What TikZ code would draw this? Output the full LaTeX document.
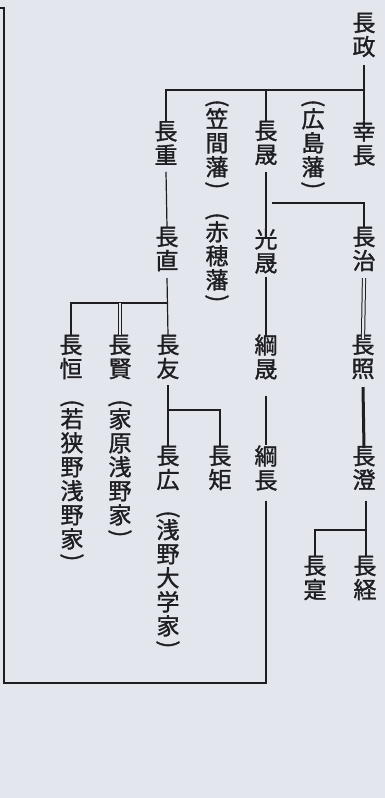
\documentclass[tikz,border=0pt]{standalone}
\usepackage{fontspec}
\usepackage{graphicx}
\newfontfamily\jp[FakeBold=1.3]{Noto Sans CJK JP}
\definecolor{bg}{RGB}{227,230,237}
\definecolor{ink}{RGB}{30,30,34}
\newcommand{\lpa}{\rotatebox[origin=c]{-90}{(}\\[-7pt]}
\newcommand{\rpa}{\\[-7pt]\rotatebox[origin=c]{-90}{)}}
\tikzset{
  nm/.style={inner sep=0pt, outer sep=0pt, align=center, font=\jp\fontsize{23}{24}\selectfont, text=ink},
  ln/.style={draw=ink, line width=1.2pt},
  dbl/.style={draw=ink, line width=1pt, double=bg, double distance=2.2pt},
  thk/.style={draw=ink, line width=3pt},
}
\begin{document}
\begin{tikzpicture}[x=1pt,y=-1pt]
\fill[bg] (0,0) rectangle (385,798);
\useasboundingbox (0,0) rectangle (385,798);
% names
\node[nm] (masa) at (364,35) {長\\政};
\node[nm] (sachi) at (364,143) {幸\\長};
\node[nm] (hiroshima) at (313,146) {\lpa 広\\島\\藩\rpa};
\node[nm] (akira) at (266,143) {長\\晟};
\node[nm] (kasama) at (217,146) {\lpa 笠\\間\\藩\rpa};
\node[nm] (shige) at (166,143) {長\\重};
\node[nm] (haru) at (364,249) {長\\治};
\node[nm] (mitsu) at (266,251) {光\\晟};
\node[nm] (nao) at (167,249) {長\\直};
\node[nm] (ako) at (217,259) {\lpa 赤\\穂\\藩\rpa};
\node[nm] (teru) at (363,357) {長\\照};
\node[nm] (tsunaaki) at (266,357) {綱\\晟};
\node[nm] (tomo) at (168,357) {長\\友};
\node[nm] (kata) at (120,357) {長\\賢};
\node[nm] (tsune) at (71,357) {長\\恒};
\node[nm] (sumi) at (364,468) {長\\澄};
\node[nm] (tsunanaga) at (266,468) {綱\\長};
\node[nm] (nori) at (220,468) {長\\矩};
\node[nm] (hiroshi) at (168,468) {長\\広};
\node[nm] (ieha) at (120,470) {\lpa 家\\原\\浅\\野\\家\rpa};
\node[nm] (waka) at (72,482) {\lpa 若\\狭\\野\\浅\\野\\家\rpa};
\node[nm] (daigaku) at (168,581) {\lpa 浅\\野\\大\\学\\家\rpa};
\node[nm] (sane) at (315,578) {長\\寔};
\node[nm] (tsunemichi) at (365,578) {長\\経};
% junctions
\coordinate (j1) at (364,90);
\coordinate (j2) at (167,303);
\coordinate (b1) at (272,203);
\coordinate (j3) at (168,410);
\coordinate (j4) at (366,530);
\coordinate (c1) at (4,683);
\coordinate (c2) at (0,8);
% connectors
\draw[ln] ([yshift=-8pt]masa.south) -- (sachi.north);
\draw[ln] (shige.north) |- (j1);
\draw[ln] (akira.north) -- (akira.north |- j1);
\draw[ln] ([yshift=-7pt]shige.south) -- (nao.north);
\draw[ln] ([yshift=-7pt]akira.south) -- (mitsu.north);
\draw[ln] (b1) -| (haru.north);
\draw[dbl] ([yshift=-7pt]haru.south) -- ([yshift=-4pt]teru.north);
\draw[ln] ([yshift=-3pt]mitsu.south) -- ([yshift=-3pt]tsunaaki.north);
\draw[ln] ([yshift=-7pt]nao.south) -- (tomo.north);
\draw[ln] (tsune.north) |- (j2);
\draw[dbl] (kata.north |- j2) -- (kata.north);
\draw[thk] ([yshift=-8pt]teru.south) -- ([yshift=-2pt]sumi.north);
\draw[ln] ([yshift=-16pt]tsunaaki.south) -- (tsunanaga.north);
\draw[ln] ([yshift=-6pt]tomo.south) -- (hiroshi.north);
\draw[ln] (j3) -| (nori.north);
\draw[ln] ([yshift=-11pt,xshift=2pt]sumi.south) -- ([xshift=1pt]tsunemichi.north);
\draw[ln] (j4) -| (sane.north);
\draw[ln] ([yshift=-10pt]tsunanaga.south) |- (c1) |- (c2);
\end{tikzpicture}
\end{document}
